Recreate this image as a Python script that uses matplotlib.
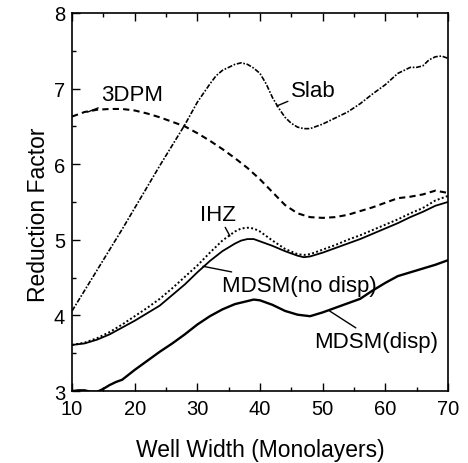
import matplotlib
matplotlib.use("Agg")
import matplotlib.pyplot as plt

plt.rcParams["font.family"] = ["Liberation Sans", "DejaVu Sans"]

# curves (well width in monolayers -> reduction factor)
slab_x = [10, 12, 14, 16, 18, 20, 22, 24, 26, 28, 30, 32, 33, 34, 36, 37, 38, 39, 40,
          41, 42, 43, 44, 45, 46, 47, 48, 50, 52, 54, 56, 58, 60, 62, 64, 65, 66, 67,
          68, 69, 70]
slab_y = [4.06, 4.33, 4.60, 4.87, 5.14, 5.42, 5.70, 5.98, 6.25, 6.52, 6.82, 7.06, 7.17,
          7.24, 7.32, 7.34, 7.32, 7.27, 7.20, 7.06, 6.88, 6.74, 6.62, 6.54, 6.49, 6.47,
          6.47, 6.53, 6.61, 6.69, 6.80, 6.93, 7.05, 7.20, 7.28, 7.28, 7.30, 7.38, 7.42,
          7.43, 7.40]

dpm_x = [10, 12, 14, 16, 18, 20, 22, 24, 26, 28, 30, 32, 34, 36, 38, 40, 42, 44, 46,
         48, 50, 52, 54, 56, 58, 60, 62, 64, 66, 68, 70]
dpm_y = [6.63, 6.69, 6.72, 6.73, 6.73, 6.71, 6.67, 6.62, 6.56, 6.50, 6.41, 6.31, 6.20,
         6.08, 5.95, 5.80, 5.63, 5.46, 5.35, 5.30, 5.29, 5.30, 5.33, 5.38, 5.43, 5.49,
         5.55, 5.57, 5.60, 5.65, 5.62]

ihz_x = [10, 12, 14, 16, 18, 20, 22, 24, 26, 28, 30, 32, 34, 36, 37, 38, 39, 40, 42,
         44, 46, 47, 48, 50, 52, 54, 56, 58, 60, 62, 64, 66, 68, 70]
ihz_y = [3.61, 3.64, 3.70, 3.78, 3.88, 3.99, 4.10, 4.22, 4.36, 4.51, 4.66, 4.83, 4.99,
         5.11, 5.15, 5.16, 5.15, 5.11, 4.99, 4.88, 4.81, 4.80, 4.81, 4.87, 4.93, 5.00,
         5.06, 5.13, 5.20, 5.27, 5.35, 5.42, 5.52, 5.58]

nodisp_x = [10, 12, 14, 16, 18, 20, 22, 24, 26, 28, 30, 32, 34, 36, 37, 38, 39, 40, 42,
            44, 46, 47, 48, 50, 52, 54, 56, 58, 60, 62, 64, 66, 68, 70]
nodisp_y = [3.61, 3.63, 3.68, 3.75, 3.84, 3.93, 4.03, 4.13, 4.27, 4.41, 4.57, 4.72,
            4.85, 4.95, 4.99, 5.01, 5.01, 4.98, 4.92, 4.85, 4.79, 4.77, 4.78, 4.83, 4.89,
            4.95, 5.01, 5.08, 5.15, 5.22, 5.30, 5.37, 5.45, 5.50]

disp_x = [10, 11, 12, 13, 14, 15, 16, 17, 18, 20, 22, 24, 26, 28, 30, 32, 34, 36, 38,
          39, 40, 42, 44, 46, 48, 50, 52, 54, 56, 58, 60, 62, 64, 66, 68, 70]
disp_y = [3.00, 3.01, 3.01, 2.99, 2.99, 3.03, 3.08, 3.12, 3.15, 3.28, 3.40, 3.52, 3.63,
          3.75, 3.88, 3.99, 4.08, 4.15, 4.19, 4.21, 4.20, 4.14, 4.06, 4.01, 3.99, 4.04,
          4.10, 4.16, 4.22, 4.33, 4.43, 4.52, 4.57, 4.62, 4.67, 4.73]

x_ticks = [10, 20, 30, 40, 50, 60, 70]
y_ticks = [3, 4, 5, 6, 7, 8]

fig = plt.figure(figsize=(4.68, 4.64), dpi=100)
ax = fig.add_axes([0.154, 0.155, 0.803, 0.815])

ax.plot(slab_x, slab_y, color="black", lw=1.2, linestyle=(0, (3, 1, 1, 1)))
ax.plot(dpm_x, dpm_y, color="black", lw=1.5, linestyle=(0, (3, 2)))
ax.plot(ihz_x, ihz_y, color="black", lw=1.4, linestyle=(0, (1, 1.2)))
ax.plot(nodisp_x, nodisp_y, color="black", lw=1.3)
ax.plot(disp_x, disp_y, color="black", lw=1.7)

fs = 16
lead = dict(arrowstyle="-", color="black", lw=1.0, shrinkA=0, shrinkB=0)
ax.annotate("Slab", xy=(42.7, 6.77), xytext=(44.9, 6.97), fontsize=fs,
            va="center", ha="left", arrowprops=lead)
ax.annotate("3DPM", xy=(12.5, 6.69), xytext=(14.6, 6.92), fontsize=fs,
            va="center", ha="left", arrowprops=lead)
ax.annotate("IHZ", xy=(35.2, 5.05), xytext=(33.3, 5.34), fontsize=fs,
            va="center", ha="center", arrowprops=lead)
ax.annotate("MDSM(no disp)", xy=(30.9, 4.65), xytext=(33.9, 4.40), fontsize=fs,
            va="center", ha="left", arrowprops=lead)
ax.annotate("MDSM(disp)", xy=(51.1, 4.06), xytext=(48.7, 3.66), fontsize=fs,
            va="center", ha="left", arrowprops=lead)

ax.set_xlim(10, 70)
ax.set_ylim(3, 8)
ax.set_xticks(x_ticks)
ax.set_yticks(y_ticks)
ax.set_xticks(range(15, 70, 10), minor=True)
ax.set_yticks([3.5, 4.5, 5.5, 6.5, 7.5], minor=True)
ax.tick_params(which="both", direction="in", top=True, right=False, labelsize=14.5)
ax.tick_params(which="major", length=6, width=1)
ax.tick_params(which="minor", length=3, width=1)
ax.tick_params(axis="x", pad=6)
ax.tick_params(axis="y", pad=5)
for s in ax.spines.values():
    s.set_linewidth(1.2)

ax.set_xlabel("Well Width (Monolayers)", fontsize=16.5)
ax.set_ylabel("Reduction Factor", fontsize=16.5)
ax.xaxis.set_label_coords(0.5, -0.125)
ax.yaxis.set_label_coords(-0.06, 0.47)

fig.savefig("out.png", dpi=100)
